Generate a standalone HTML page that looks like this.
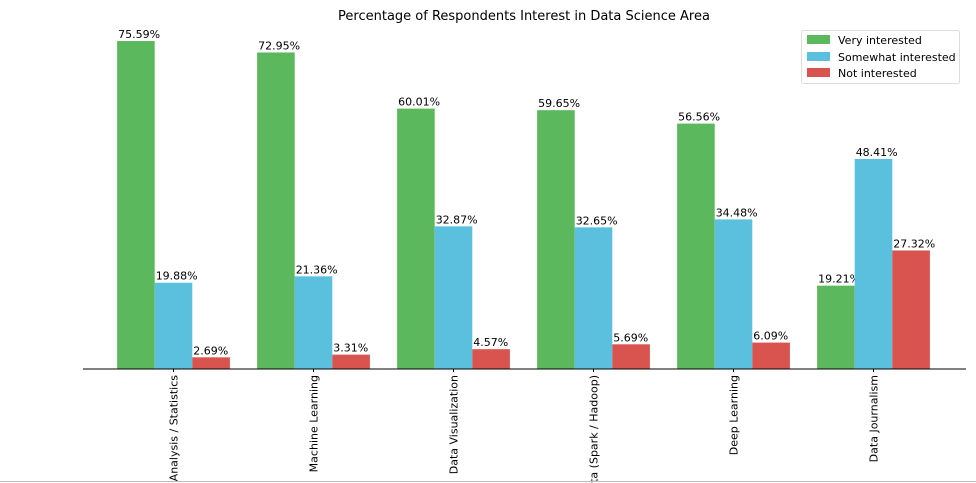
<!DOCTYPE html>
<html><head><meta charset="utf-8"><style>
html,body{margin:0;background:#fff;width:976px;height:483px;overflow:hidden;}
svg{display:block;font-family:"DejaVu Sans","Liberation Sans",sans-serif;}
</style></head><body>
<svg id="chart" width="976" height="483">
<text x="524" y="20" text-anchor="middle" font-size="13">Percentage of Respondents Interest in Data Science Area</text>
<g id="bars"></g>
<line x1="83" y1="369" x2="966" y2="369" stroke="#000" stroke-width="1"/>
<line x1="0" y1="481.5" x2="976" y2="481.5" stroke="#bbb" stroke-width="1"/>
<g>
<rect x="801.5" y="30.5" width="158" height="53" fill="#fff" stroke="#ddd" rx="2"/>
<rect x="807" y="35" width="23" height="9" fill="#5cb85c"/>
<text x="838" y="44" font-size="11">Very interested</text>
<rect x="807" y="52" width="23" height="9" fill="#5bc0de"/>
<text x="838" y="61" font-size="11">Somewhat interested</text>
<rect x="807" y="68" width="23" height="9" fill="#d9534f"/>
<text x="838" y="77" font-size="11">Not interested</text>
</g>
</svg>
<script>
const categories=["Data Analysis / Statistics","Machine Learning","Data Visualization","Big Data (Spark / Hadoop)","Deep Learning","Data Journalism"];
const veryInterested=[75.59,72.95,60.01,59.65,56.56,19.21];
const somewhatInterested=[19.88,21.36,32.87,32.65,34.48,48.41];
const notInterested=[2.69,3.31,4.57,5.69,6.09,27.32];
const series=[veryInterested,somewhatInterested,notInterested];
const colors=["#5cb85c","#5bc0de","#d9534f"];
const sNames=["very","somewhat","not"];
const NS="http://www.w3.org/2000/svg";
const g=document.getElementById("bars");
const base=369,scale=4.339,bw=37.6;
function xCenter(i){return 173.5+140*i;}
function y(v){return base-v*scale;}
categories.forEach((c,i)=>{
  series.forEach((s,k)=>{
    const x=xCenter(i)-1.5*bw+k*bw;
    const r=document.createElementNS(NS,"rect");
    r.setAttribute("x",x);r.setAttribute("y",y(s[i]));
    r.setAttribute("width",bw);r.setAttribute("height",base-y(s[i]));
    r.setAttribute("fill",colors[k]);
    
    
    g.appendChild(r);
    const t=document.createElementNS(NS,"text");
    t.setAttribute("x",x+1);t.setAttribute("y",y(s[i])-3);
    t.setAttribute("font-size","11");
    t.textContent=s[i].toFixed(2)+"%";
    
    
    g.appendChild(t);
  });
  const tk=document.createElementNS(NS,"line");
  tk.setAttribute("x1",xCenter(i));tk.setAttribute("x2",xCenter(i));
  tk.setAttribute("y1",base);tk.setAttribute("y2",base+3);
  tk.setAttribute("stroke","#000");
  
  
  g.appendChild(tk);
  const l=document.createElementNS(NS,"text");
  l.setAttribute("transform","translate("+(xCenter(i)+4)+","+(base+6)+") rotate(-90)");
  l.setAttribute("text-anchor","end");
  l.setAttribute("font-size","11");
  l.textContent=c;
  
  
  g.appendChild(l);
});
</script>
</body></html>
